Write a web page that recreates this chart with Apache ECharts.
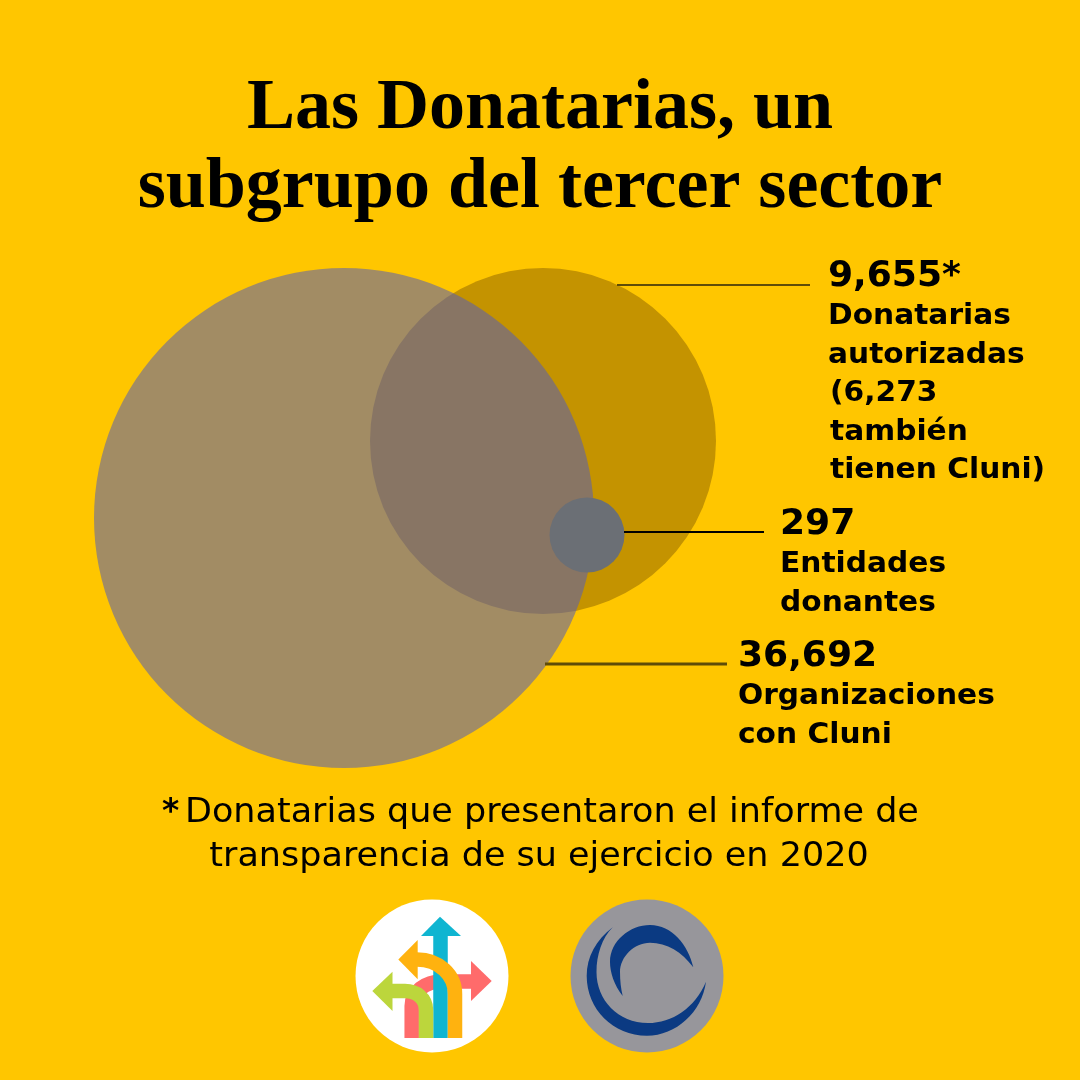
<!DOCTYPE html>
<html>
<head>
<meta charset="utf-8">
<title>Las Donatarias</title>
<script src="https://cdn.jsdelivr.net/npm/echarts@6/dist/echarts.min.js"></script>
<style>
  html, body { margin: 0; padding: 0; background: #ffc600; }
  #chart { width: 1080px; height: 1080px; }
</style>
</head>
<body>
<div id="chart"></div>
<script>
// venn sets, drawn back to front
var setNames = ['Donatarias autorizadas', 'Organizaciones con Cluni', 'Entidades donantes'];
var setValues = [9655, 36692, 297];
var setX = [543, 344, 587];
var setY = [441, 518, 535];
var setDiameters = [346, 500, 75];
var setColors = ['#c49300', 'rgba(89,95,178,0.56)', '#6b6f75'];

var overlapValue = 6273;

// leader lines
var lineX = [[617, 810], [545, 727], [624, 764]];
var lineY = [[285, 285], [664, 664], [532, 532]];
var lineColors = ['#5f4c08', '#5f4c08', '#000000'];
var lineWidths = [2, 3, 2];

var fmt = function (v) { return v.toLocaleString('en-US'); };

var titleLines = ['Las Donatarias, un', 'subgrupo del tercer sector'];
var noteLines = ['Donatarias que presentaron el informe de', 'transparencia de su ejercicio en 2020'];

var labels = [
  { x: 828, y: 277, big: fmt(setValues[0]) + '*', lines: ['Donatarias', 'autorizadas', '(' + fmt(overlapValue), 'también', 'tienen Cluni)'] },
  { x: 780, y: 525, big: fmt(setValues[2]), lines: ['Entidades', 'donantes'] },
  { x: 738, y: 657, big: fmt(setValues[1]), lines: ['Organizaciones', 'con Cluni'] }
];

var sans = 'DejaVu Sans';
var graphics = [];

labels.forEach(function (l) {
  graphics.push({
    type: 'text', x: l.x, y: l.y, scaleX: 1.03,
    style: { text: l.big, font: 'bold 35px "' + sans + '"', fill: '#000', textVerticalAlign: 'middle' }
  });
  l.lines.forEach(function (t, i) {
    graphics.push({
      type: 'text', x: l.x + (i > 1 ? 2 : 0), y: l.y + 40 + i * 38.5, scaleX: 1.06,
      style: { text: t, font: 'bold 28px "' + sans + '"', fill: '#000', textVerticalAlign: 'middle' }
    });
  });
});

// footnote
graphics.push({
  type: 'text', x: 162, y: 813,
  style: { text: '*', font: 'bold 33px "' + sans + '"', fill: '#000', textVerticalAlign: 'middle' }
});
graphics.push({
  type: 'text', x: 185, y: 813, scaleX: 1.06,
  style: { text: noteLines[0], font: '33px "' + sans + '"', fill: '#000', textVerticalAlign: 'middle' }
});
graphics.push({
  type: 'text', x: 539, y: 857, scaleX: 1.06,
  style: { text: noteLines[1], font: '33px "' + sans + '"', fill: '#000', textAlign: 'center', textVerticalAlign: 'middle' }
});

// logos are plain paths, the graphic component only takes registered shapes
var shapeCount = 0;
var pathEl = function (d, style) {
  var name = 'logoPath' + (shapeCount++);
  echarts.graphic.registerShape(name, echarts.graphic.extendPath(d, {}));
  return { type: name, style: style };
};
var arrowShaft = function (d, c) {
  return pathEl(d, { fill: 'none', stroke: c, lineWidth: 14.5 });
};
var arrowHead = function (d, c) {
  return pathEl(d, { fill: c });
};

// left logo: arrows
graphics.push({ type: 'circle', shape: { cx: 432, cy: 976, r: 76.5 }, style: { fill: '#fff' } });
graphics.push(arrowShaft('M411.7 1038 L411.7 1006 C411.7 992 425 981.5 442 981.5 L472 981.5', '#ff6b6b'));
graphics.push(arrowHead('M491.7 981 L471 961 L471 1001 Z', '#ff6b6b'));
graphics.push(arrowShaft('M440.5 1038 L440.5 935', '#0fb5d1'));
graphics.push(arrowHead('M440 916.7 L421 936 L461 936 Z', '#0fb5d1'));
graphics.push(arrowShaft('M426 1038 L426 1010 C426 998 416 991 405 991 L392 991', '#bcd63c'));
graphics.push(arrowHead('M372.3 991 L392.5 971.7 L392.5 1011 Z', '#bcd63c'));
graphics.push(arrowShaft('M455 1038 L455 994 C455 975 439 959.5 417 959.5', '#ffb20f'));
graphics.push(arrowHead('M398.3 959.5 L417.7 940 L417.7 979.3 Z', '#ffb20f'));

// right logo: crescents
graphics.push({ type: 'circle', shape: { cx: 647, cy: 976, r: 76.5 }, style: { fill: '#97969b' } });
graphics.push(pathEl('M612.7 927.3 C596 940 586.7 957 586.7 976 C586.7 1009 613 1035.7 647 1035.7 C676 1035.7 702 1012 706 981.7 C695 1008 672 1023 648 1023 C618 1023 596.5 1000 596.5 972 C596.5 955 602 938 612.7 927.3 Z', { fill: '#0b3a82' }));
graphics.push(pathEl('M622.7 996 C614 985 610 972 610 962 C610 941 630 925 650 925 C672 925 688 945 693.3 967.3 C682 952 667 942.7 650 942.7 C634 942.7 620 957 620 972 C620 981 621 989 622.7 996 Z', { fill: '#0b3a82' }));

var series = [{
  type: 'scatter',
  silent: true,
  z: 2,
  data: setNames.map(function (n, i) {
    return {
      name: n,
      value: [setX[i], setY[i], setValues[i]],
      symbolSize: setDiameters[i],
      itemStyle: { color: setColors[i], opacity: 1 }
    };
  })
}];
lineX.forEach(function (xs, i) {
  series.push({
    type: 'line',
    silent: true,
    z: 3,
    symbol: 'none',
    lineStyle: { color: lineColors[i], width: lineWidths[i] },
    data: [[xs[0], lineY[i][0]], [xs[1], lineY[i][1]]]
  });
});

var chart = echarts.init(document.getElementById('chart'));
chart.setOption({
  animation: false,
  backgroundColor: '#ffc600',
  title: {
    text: titleLines.join('\n'),
    left: 'center',
    top: 65,
    textStyle: { fontFamily: 'Liberation Serif', fontWeight: 'bold', fontSize: 72, lineHeight: 79, color: '#000' }
  },
  grid: { left: 0, right: 0, top: 0, bottom: 0 },
  xAxis: { type: 'value', min: 0, max: 1080, show: false },
  yAxis: { type: 'value', min: 0, max: 1080, inverse: true, show: false },
  graphic: graphics,
  series: series
});
</script>
</body>
</html>
